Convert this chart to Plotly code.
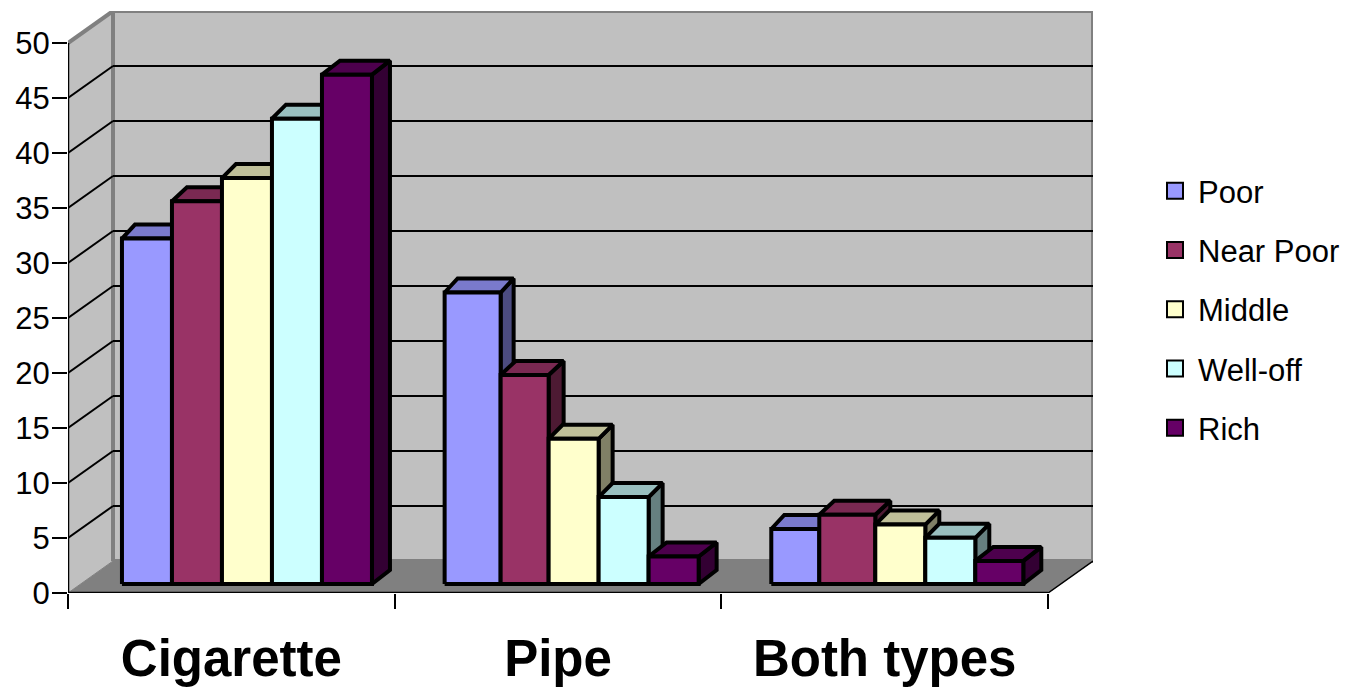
import plotly.graph_objects as go

# ---- data ----
categories = ["Cigarette", "Pipe", "Both types"]
series_names = ["Poor", "Near Poor", "Middle", "Well-off", "Rich"]
poor = [31.4, 26.5, 5.0]
near_poor = [34.8, 19.0, 6.3]
middle = [36.9, 13.2, 5.4]
well_off = [42.3, 7.9, 4.2]
rich = [46.3, 2.5, 2.1]
y_ticks = [0, 5, 10, 15, 20, 25, 30, 35, 40, 45, 50]

# ---- styles ----
front_colors = ["#9999FF", "#993366", "#FFFFCC", "#CCFFFF", "#660066"]
top_colors = ["#7A7ACC", "#7A2952", "#BFBF99", "#99BFBF", "#4D004D"]
side_colors = ["#4C4C80", "#4D1A33", "#808066", "#668080", "#330033"]
FONT = "Liberation Sans"

# ---- pseudo-3D geometry, expressed in axis units ----
PX_X = 980 / 3      # pixels per category
PX_Y = 11.0         # pixels per value unit
WALL_DX = 45 / PX_X
WALL_DY = 32 / PX_Y
bar_dx = [w / PX_X for w in (13, 15, 14, 14, 18)]
BAR_DY = 14 / PX_Y
BASE_V = 9 / PX_Y
BASE_SHIFT = 12.66 / PX_X
group_gap = [41.3 / PX_X, 37.3 / PX_X, 37.3 / PX_X]
bar_widths = [
    [w / PX_X for w in (50, 50, 50, 50, 50)],
    [w / PX_X for w in (56, 48, 50, 50, 50)],
    [w / PX_X for w in (48, 56, 50, 50, 48)],
]
values = [poor, near_poor, middle, well_off, rich]

fig = go.Figure()


def poly(xs, ys, fill, line="#000000", width=4):
    fig.add_trace(go.Scatter(
        x=xs + xs[:1], y=ys + ys[:1], mode="lines", fill="toself", fillcolor=fill,
        line=dict(color=line, width=width), hoverinfo="skip", showlegend=False,
        cliponaxis=False))


def seg(xs, ys, color="#000000", width=2):
    fig.add_trace(go.Scatter(
        x=xs, y=ys, mode="lines", line=dict(color=color, width=width),
        hoverinfo="skip", showlegend=False, cliponaxis=False))


n = len(categories)
top_v = y_ticks[-1]
# walls and floor
poly([0, WALL_DX, WALL_DX, 0], [0, WALL_DY, top_v + WALL_DY, top_v], "#C0C0C0", "#C0C0C0", 0)
poly([WALL_DX, n + WALL_DX, n + WALL_DX, WALL_DX],
     [WALL_DY, WALL_DY, top_v + WALL_DY, top_v + WALL_DY], "#C0C0C0", "#808080", 4)
poly([0, n, n + WALL_DX, WALL_DX], [0, 0, WALL_DY, WALL_DY], "#808080", "#808080", 1)
seg([0, WALL_DX], [top_v, top_v + WALL_DY], "#808080", 4)
seg([WALL_DX, WALL_DX], [WALL_DY, top_v + WALL_DY], "#808080", 4)
for v in y_ticks[1:-1]:
    seg([0, WALL_DX], [v, v + WALL_DY])
    seg([WALL_DX, n + WALL_DX], [v + WALL_DY, v + WALL_DY])
seg([n, n + WALL_DX], [0, WALL_DY], "#000000", 1.5)
seg([0, 0], [0, top_v], "#000000", 2.5)
seg([0, n], [0, 0], "#000000", 2.5)

# bars, left to right so that each one hides what lies behind it
for g in range(n):
    x = g + BASE_SHIFT + group_gap[g]
    for s in range(len(series_names)):
        v = values[s][g]
        dx = bar_dx[s]
        x0, x1 = x, x + bar_widths[g][s]
        y0, y1 = BASE_V, BASE_V + v
        poly([x1, x1 + dx, x1 + dx, x1], [y0, y0 + BAR_DY, y1 + BAR_DY, y1], side_colors[s])
        poly([x0, x0 + dx, x1 + dx, x1], [y1, y1 + BAR_DY, y1 + BAR_DY, y1], top_colors[s])
        poly([x0, x1, x1, x0], [y0, y0, y1, y1], front_colors[s])
        x = x1

# legend entries
for s, name in enumerate(series_names):
    fig.add_trace(go.Scatter(
        x=[None], y=[None], mode="markers", name=name, legendgroup=name,
        marker=dict(symbol="square", size=16, color=front_colors[s],
                    line=dict(color="#000000", width=2))))

# the page adds an 8 px body margin, so margins are 8 px less at left and top
fig.update_layout(
    width=1350, height=687, autosize=False,
    margin=dict(l=60, r=265, t=3, b=102, pad=0, autoexpand=False),
    paper_bgcolor="white", plot_bgcolor="white",
    font=dict(family=FONT, color="#000000"),
    showlegend=True,
    legend=dict(xref="container", yref="container", x=1144 / 1350, xanchor="left",
                y=1 - 156 / 687, yanchor="top",
                font=dict(family=FONT, size=31, color="#000000"),
                tracegroupgap=16, itemsizing="trace", itemwidth=36,
                bgcolor="rgba(0,0,0,0)", borderwidth=0),
    xaxis=dict(range=[0, n + WALL_DX], tickmode="array", automargin=False,
               tickvals=[i + 0.5 for i in range(n)], ticktext=categories,
               ticks="", showgrid=False, zeroline=False, showline=False,
               tickfont=dict(family=FONT, size=51, color="#000000", weight=700),
               ticklabelstandoff=31,
               minor=dict(tickmode="array", tickvals=list(range(n + 1)), ticks="outside",
                          ticklen=15, tickwidth=2, tickcolor="#000000", showgrid=False)),
    yaxis=dict(range=[0, 582 / PX_Y], tickmode="array", tickvals=y_ticks, automargin=False,
               ticktext=[str(v) for v in y_ticks], ticks="outside", ticklen=15,
               tickwidth=2, tickcolor="#000000", showgrid=False, zeroline=False,
               showline=False, ticklabelstandoff=-4,
               tickfont=dict(family=FONT, size=31, color="#000000")),
)

fig.write_html("out.html")
